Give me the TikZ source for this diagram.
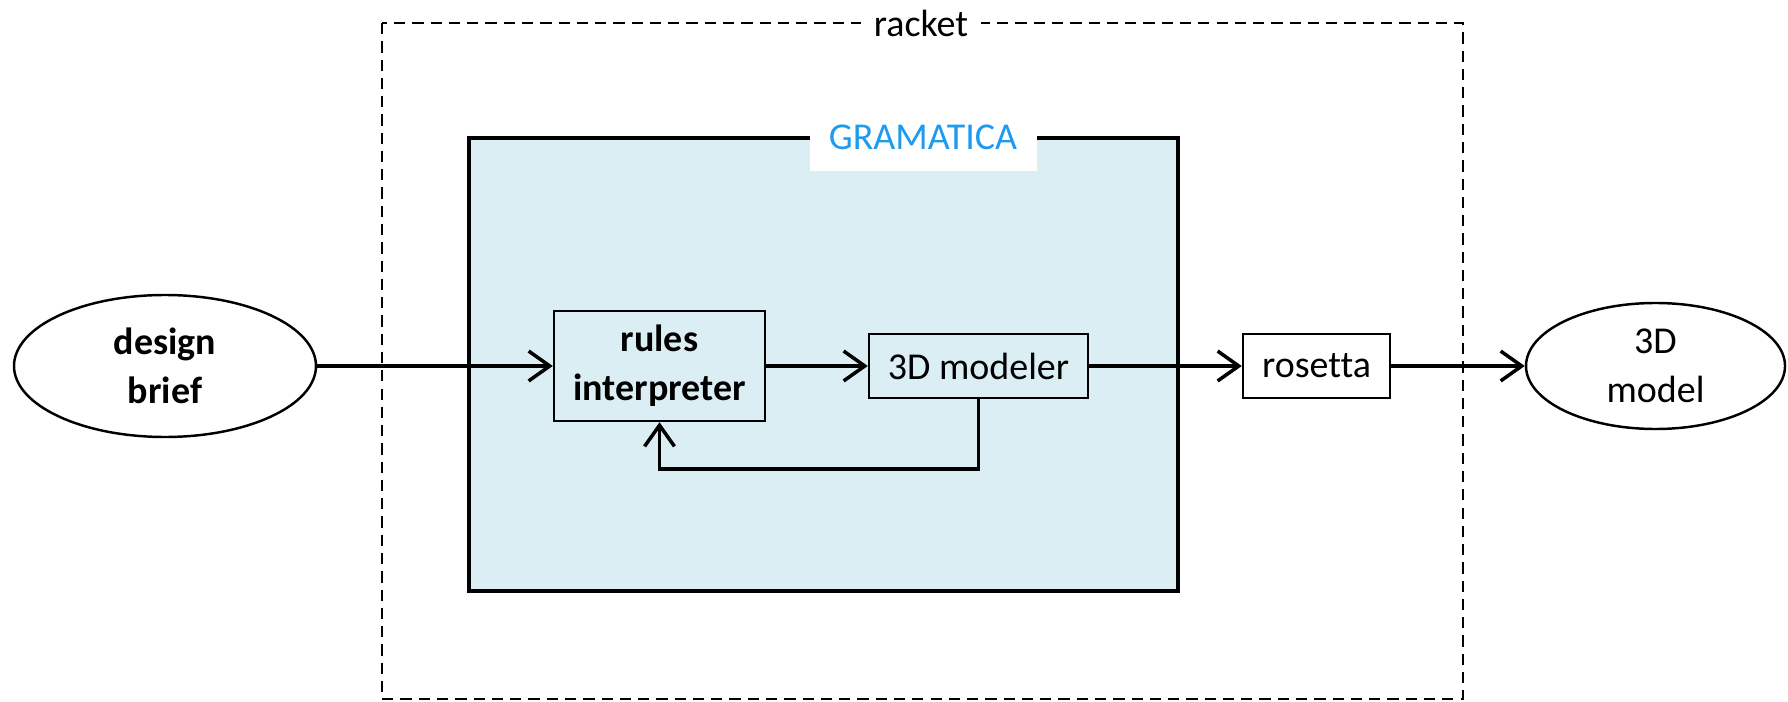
\documentclass[tikz,border=0pt]{standalone}
\usepackage{fontspec}
\setmainfont{Carlito}[Ligatures=NoCommon]
\usetikzlibrary{arrows.meta,shapes.geometric}

\definecolor{gramfill}{HTML}{DAEEF3}
\definecolor{gramblue}{HTML}{1E9BF0}
\newcommand{\diagfont}{\fontsize{10.8}{14}\selectfont}

\begin{document}
\begin{tikzpicture}[>={Straight Barb[length=6pt,width=8.5pt]},
    every node/.style={font=\diagfont, align=center},
    block/.style={draw, line width=0.7pt, inner sep=0pt},
    blob/.style={draw, ellipse, line width=0.7pt, inner sep=0pt},
    flow/.style={->, line width=1pt}]
    \useasboundingbox (0,0) rectangle (17.88,-7.02);

    % racket frame
    \draw[line width=0.6pt, dash pattern=on 3.2pt off 2pt] (3.82,-0.23) rectangle (14.63,-6.99);
    \node[fill=white, minimum width=1.2cm, inner ysep=1pt] (racket) at (9.21,-0.23) {racket};

    % GRAMATICA frame
    \draw[fill=gramfill, line width=1.2pt] (4.69,-1.38) rectangle (11.78,-5.91);
    \fill[white] (8.10,-1.20) rectangle (10.37,-1.71);
    \node[text=gramblue] (gram) at (9.23,-1.375) {GRAMATICA};

    \node[blob, minimum width=3.02cm, minimum height=1.42cm] (brief) at (1.65,-3.66) {\bfseries design\\\bfseries brief};
    \node[block, fill=gramfill, minimum width=2.11cm, minimum height=1.10cm] (rules) at (6.595,-3.66) {\bfseries rules\\\bfseries interpreter};
    \node[block, fill=gramfill, minimum width=2.19cm, minimum height=0.64cm] (modeler) at (9.785,-3.66) {3D modeler};
    \node[block, minimum width=1.47cm, minimum height=0.64cm] (rosetta) at (13.165,-3.66) {rosetta};
    \node[blob, minimum width=2.59cm, minimum height=1.26cm] (model) at (16.555,-3.66) {3D\\model};

    \coordinate (back) at (9.785,-4.69);

    \draw[flow] (brief) -- (rules);
    \draw[flow] (rules) -- (modeler);
    \draw[flow] (modeler) -- (rosetta);
    \draw[flow] (rosetta) -- (model);
    \draw[flow] (modeler.south) -- (back) -| (rules.south);
\end{tikzpicture}
\end{document}
